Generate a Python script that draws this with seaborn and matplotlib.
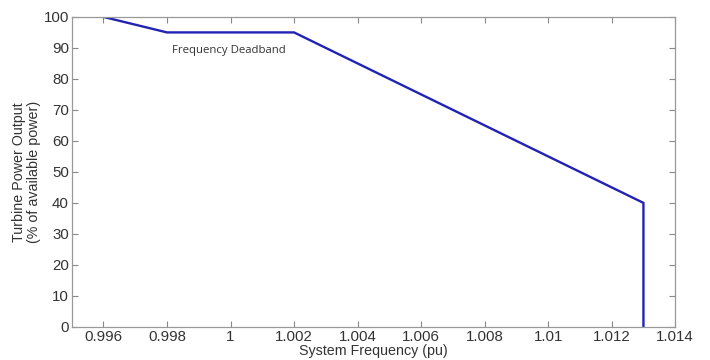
import matplotlib
matplotlib.use("Agg")
import matplotlib.pyplot as plt
import seaborn as sns
import pandas as pd

freq = [0.996, 0.998, 1.002, 1.013, 1.013]
power = [100, 95, 95, 40, 0]
xticks = [0.996, 0.998, 1.0, 1.002, 1.004, 1.006, 1.008, 1.01, 1.012, 1.014]
xticklabels = ["0.996", "0.998", "1", "1.002", "1.004", "1.006", "1.008", "1.01", "1.012", "1.014"]
yticks = [0, 10, 20, 30, 40, 50, 60, 70, 80, 90, 100]

sns.set_theme(style="white")
plt.rcParams['font.family'] = ['Liberation Sans', 'DejaVu Sans']

fig = plt.figure(figsize=(7.1, 3.6), dpi=100)
ax = fig.add_axes([0.101, 0.092, 0.850, 0.861])

df = pd.DataFrame({"f": freq, "p": power, "order": range(len(freq))})
sns.lineplot(data=df, x="f", y="p", sort=False, estimator=None, ax=ax,
             color="#2222b4", linewidth=1.7)

ax.set_xlim(0.995, 1.014)
ax.set_ylim(0, 100)
ax.set_xticks(xticks)
ax.set_xticklabels(xticklabels)
ax.set_yticks(yticks)
ax.tick_params(direction="in", length=4, width=0.8, colors="#888888",
               labelcolor="#333333", labelsize=10.8, top=True, right=True,
               bottom=True, left=True, pad=2)
for s in ax.spines.values():
    s.set_color("#999999")
    s.set_linewidth(0.9)
ax.set_xlabel("System Frequency (pu)", fontsize=10.3, color="#333333", labelpad=0)
ax.set_ylabel("Turbine Power Output\n(% of available power)", fontsize=10.3,
              color="#333333", labelpad=2, linespacing=1.1)
ax.text(0.99995, 89.2, "Frequency Deadband", fontsize=8.2, color="#333333",
        ha="center", va="center", family=["Open Sans", "DejaVu Sans"])

fig.savefig("out.png", dpi=100, facecolor="white")
